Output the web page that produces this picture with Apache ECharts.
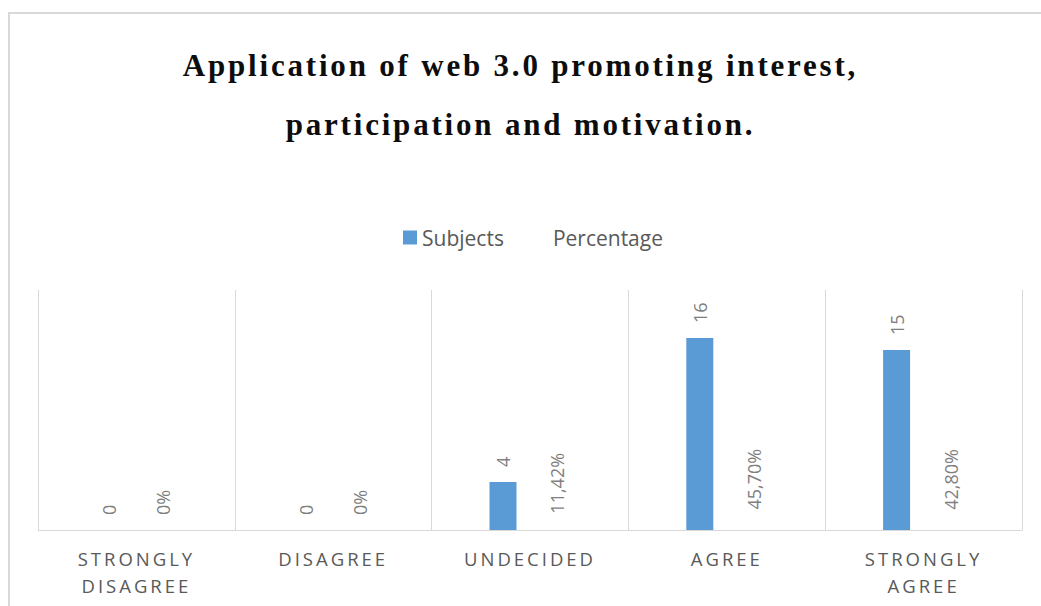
<!DOCTYPE html>
<html>
<head>
<meta charset="utf-8">
<script src="https://cdn.jsdelivr.net/npm/echarts@6/dist/echarts.min.js"></script>
<style>
  html, body { margin: 0; padding: 0; background: #ffffff; }
  #chart { width: 1041px; height: 606px; }
</style>
</head>
<body>
<div id="chart"></div>
<script>
const titleLines = ['Application of web 3.0 promoting interest,', 'participation and motivation.'];
const categories = ['STRONGLY\nDISAGREE', 'DISAGREE', 'UNDECIDED', 'AGREE', 'STRONGLY\nAGREE'];
const seriesNames = ['Subjects', 'Percentage'];
const subjects = [0, 0, 4, 16, 15];
const percentage = [0, 0, 0.1142, 0.457, 0.428];

const dom = document.getElementById('chart');
const chart = echarts.init(dom, null, { renderer: 'svg' });

function pctLabel(p) {
  return p.value === 0 ? '0%' : (p.value * 100).toFixed(2).replace('.', ',') + '%';
}

const option = {
  animation: false,
  backgroundColor: '#ffffff',
  title: {
    text: titleLines.join('\n'),
    left: 'center',
    top: 31,
    textStyle: {
      fontFamily: 'Liberation Serif',
      fontWeight: 'bold',
      fontSize: 31,
      lineHeight: 59,
      color: '#0d0d0d'
    }
  },
  legend: {
    data: seriesNames,
    top: 222,
    left: 398,
    icon: 'rect',
    itemWidth: 14,
    itemHeight: 14,
    itemGap: 30,
    textStyle: { fontFamily: 'Open Sans', fontSize: 21, color: '#595959' }
  },
  grid: { left: 38, right: 19, top: 290, bottom: 76, containLabel: false },
  xAxis: {
    type: 'category',
    data: categories,
    boundaryGap: true,
    axisLine: { show: true, lineStyle: { color: '#d9d9d9', width: 1 } },
    axisTick: { show: false },
    splitLine: { show: true, lineStyle: { color: '#d9d9d9', width: 1 } },
    axisLabel: {
      interval: 0,
      margin: 15,
      fontFamily: 'Open Sans',
      fontSize: 18.5,
      lineHeight: 27,
      color: '#595959'
    }
  },
  yAxis: {
    type: 'value',
    min: 0,
    max: 20,
    show: false,
    splitLine: { show: false }
  },
  series: [
    {
      name: seriesNames[0],
      type: 'bar',
      data: subjects,
      barWidth: 27,
      barGap: '100%',
      itemStyle: { color: '#5b9bd5' },
      label: {
        show: true,
        position: 'top',
        rotate: 90,
        align: 'left',
        verticalAlign: 'middle',
        distance: 15,
        fontFamily: 'Open Sans',
        fontSize: 18,
        color: '#7f7f7f'
      }
    },
    {
      name: seriesNames[1],
      type: 'bar',
      data: percentage,
      barWidth: 27,
      barGap: '100%',
      itemStyle: { color: 'rgba(0,0,0,0)' },
      label: {
        show: true,
        position: 'top',
        rotate: 90,
        align: 'left',
        verticalAlign: 'middle',
        distance: 15,
        fontFamily: 'Open Sans',
        fontSize: 18,
        color: '#7f7f7f',
        formatter: pctLabel
      }
    }
  ],
  graphic: [
    {
      type: 'rect',
      silent: true,
      z: -10,
      shape: { x: 9, y: 13, width: 1200, height: 800 },
      style: { fill: 'none', stroke: '#d9d9d9', lineWidth: 2 }
    }
  ]
};

chart.setOption(option);

const catWords = [];
categories.forEach(c => c.split('\n').forEach(w => catWords.push(w)));
function applySpacing() {
  dom.querySelectorAll('text').forEach(t => {
    const s = t.textContent;
    if (titleLines.indexOf(s) >= 0) t.style.letterSpacing = '2.8px';
    else if (catWords.indexOf(s) >= 0) t.style.letterSpacing = '3px';
  });
}
chart.on('finished', applySpacing);
setTimeout(applySpacing, 50);
setTimeout(applySpacing, 300);
</script>
</body>
</html>
